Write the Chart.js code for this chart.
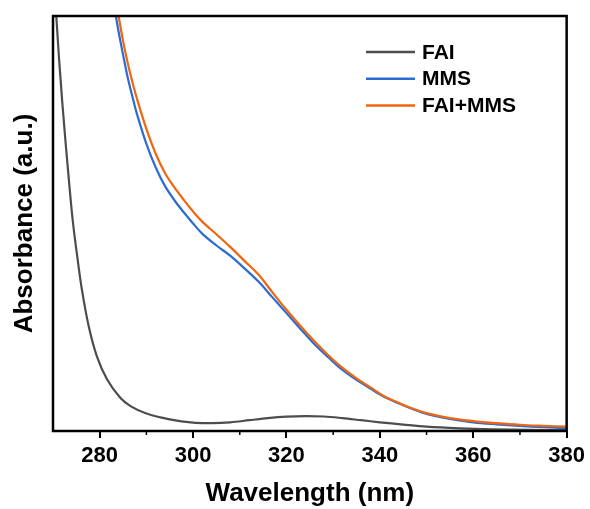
<!DOCTYPE html>
<html>
<head>
<meta charset="utf-8">
<script src="https://cdn.jsdelivr.net/npm/chart.js@4.4.0/dist/chart.umd.min.js"></script>
<style>
  html, body { margin: 0; background: #fff; }
</style>
</head>
<body>
<canvas id="chart" width="590" height="509"></canvas>
<script>
// UV-vis spectra, values (a.u., 0 = baseline, 1 = top of frame)
const FAI_NM  = [270, 270.7, 272, 273.6, 274.3, 275.2, 276.2, 277.6, 279.4, 281.6, 284.4, 286.6, 290, 295, 300, 304, 308, 312, 316, 320, 324, 328, 332, 336, 340, 345, 350, 357, 364, 372, 380];
const FAI_ABS = [1.16, 1.0, 0.79, 0.58, 0.50, 0.42, 0.34, 0.255, 0.180, 0.124, 0.080, 0.060, 0.042, 0.028, 0.020, 0.019, 0.021, 0.026, 0.031, 0.0345, 0.036, 0.035, 0.031, 0.026, 0.021, 0.0155, 0.0105, 0.0065, 0.004, 0.0028, 0.002];

const MMS_NM  = [282, 283, 284, 285, 286, 287, 288, 290, 292, 294, 296, 298, 300, 302, 305, 308, 311, 314, 317, 320, 323, 326, 329, 332, 335, 338, 341, 344, 347, 350, 355, 360, 365, 370, 375, 380];
const MMS_ABS = [1.09, 1.03, 0.965, 0.907, 0.852, 0.806, 0.763, 0.692, 0.635, 0.590, 0.556, 0.527, 0.500, 0.475, 0.447, 0.422, 0.392, 0.360, 0.322, 0.284, 0.246, 0.209, 0.177, 0.147, 0.123, 0.102, 0.082, 0.067, 0.053, 0.041, 0.029, 0.021, 0.016, 0.012, 0.009, 0.007];

const MIX_NM  = [283, 284, 285, 286, 287, 288, 290, 292, 294, 296, 298, 300, 302, 305, 308, 311, 314, 317, 320, 323, 326, 329, 332, 335, 338, 341, 344, 347, 350, 355, 360, 365, 370, 375, 380];
const MIX_ABS = [1.07, 1.003, 0.940, 0.887, 0.841, 0.800, 0.728, 0.668, 0.621, 0.587, 0.557, 0.529, 0.504, 0.474, 0.443, 0.410, 0.377, 0.334, 0.292, 0.253, 0.216, 0.182, 0.152, 0.127, 0.105, 0.083, 0.068, 0.054, 0.043, 0.031, 0.024, 0.019, 0.015, 0.0125, 0.0105];

const MAJOR_TICKS = [280, 300, 320, 340, 360, 380];
const MINOR_TICKS = [290, 310, 330, 350, 370];

const FONT = "'Liberation Sans', Arial, sans-serif";

const toXY = (xs, ys) => xs.map((x, i) => ({ x, y: ys[i] }));

function line(label, xs, ys, color, order) {
  return {
    label, data: toXY(xs, ys), borderColor: color, backgroundColor: color,
    borderWidth: 2.2, pointRadius: 0, tension: 0.35, order,
  };
}

const datasets = [
  line('FAI', FAI_NM, FAI_ABS, '#4d4d4d', 3),
  line('MMS', MMS_NM, MMS_ABS, '#2a6bd6', 2),
  line('FAI+MMS', MIX_NM, MIX_ABS, '#f1650f', 1),
];

// frame, minor ticks and the in-plot legend
const extras = {
  id: 'extras',
  afterDraw(chart) {
    const { ctx, chartArea: a, scales } = chart;
    ctx.save();
    ctx.strokeStyle = '#000';
    ctx.lineWidth = 1.5;
    MINOR_TICKS.forEach((v) => {
      const x = scales.x.getPixelForValue(v);
      ctx.beginPath(); ctx.moveTo(x, a.bottom); ctx.lineTo(x, a.bottom + 4); ctx.stroke();
    });
    ctx.lineWidth = 2.5;
    ctx.strokeRect(a.left, a.top, a.right - a.left, a.bottom - a.top);

    ctx.font = `bold 21px ${FONT}`;
    ctx.textBaseline = 'middle';
    datasets.forEach((d, i) => {
      const y = 52 + i * 26.7;
      ctx.strokeStyle = d.borderColor;
      ctx.lineWidth = 2.5;
      ctx.beginPath(); ctx.moveTo(366, y); ctx.lineTo(415, y); ctx.stroke();
      ctx.fillStyle = '#000';
      ctx.fillText(d.label, 422, y + 1);
    });
    ctx.restore();
  },
};

new Chart(document.getElementById('chart'), {
  type: 'line',
  data: { datasets },
  options: {
    responsive: false,
    animation: false,
    layout: { padding: { top: 16, right: 23, left: 0, bottom: 0 } },
    plugins: { legend: { display: false }, tooltip: { enabled: false } },
    scales: {
      x: {
        type: 'linear', min: 270, max: 380,
        afterBuildTicks: (s) => { s.ticks = MAJOR_TICKS.map((value) => ({ value })); },
        afterFit: (s) => { s.height = 78; },
        grid: { drawOnChartArea: false, color: '#000', lineWidth: 2, tickLength: 7 },
        border: { display: false },
        ticks: { color: '#000', padding: 5, maxRotation: 0, font: { family: FONT, size: 22, weight: 'bold' } },
        title: { display: true, text: 'Wavelength (nm)', color: '#000', padding: 0,
                 font: { family: FONT, size: 26, weight: 'bold', lineHeight: 1.2 } },
      },
      y: {
        min: 0, max: 1,
        afterFit: (s) => { s.width = 53; },
        grid: { display: false },
        border: { display: false },
        ticks: { display: false },
        title: { display: true, text: 'Absorbance (a.u.)', color: '#000', padding: { top: 9, bottom: 0 },
                 font: { family: FONT, size: 26, weight: 'bold', lineHeight: 1.2 } },
      },
    },
  },
  plugins: [extras],
});
</script>
</body>
</html>
